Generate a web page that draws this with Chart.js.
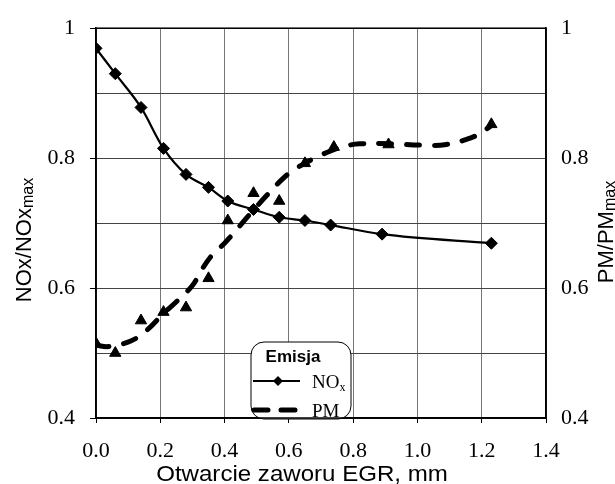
<!DOCTYPE html>
<html><head><meta charset="utf-8">
<script src="https://cdn.jsdelivr.net/npm/chart.js@4/dist/chart.umd.min.js"></script>
<style>html,body{margin:0;padding:0;background:#fff;}canvas{display:block;}</style>
</head><body>
<canvas id="c" width="615" height="484"></canvas>
<script>
// ---- data ----
const egrOpening = [0, 0.06, 0.14, 0.21, 0.28, 0.35, 0.41, 0.49, 0.57, 0.65, 0.73, 0.89, 1.23];
const noxRatio   = [0.969, 0.930, 0.878, 0.815, 0.775, 0.755, 0.734, 0.721, 0.709, 0.704, 0.697, 0.683, 0.669];
const pmOpening  = [0, 0.06, 0.14, 0.21, 0.28, 0.35, 0.41, 0.49, 0.57, 0.65, 0.74, 0.91, 1.23];
const pmRatio    = [0.515, 0.500, 0.550, 0.563, 0.570, 0.615, 0.704, 0.746, 0.734, 0.792, 0.817, 0.821, 0.852];
const pmTrendX   = [0, 0.04, 0.11, 0.16, 0.21, 0.25, 0.30, 0.33, 0.36, 0.40, 0.42, 0.46, 0.49, 0.53, 0.57, 0.61, 0.68, 0.74, 0.77, 0.82, 0.92, 1.01, 1.09, 1.17, 1.20, 1.23];
const pmTrendY   = [0.512, 0.510, 0.519, 0.536, 0.561, 0.579, 0.604, 0.629, 0.650, 0.669, 0.680, 0.703, 0.720, 0.742, 0.763, 0.780, 0.800, 0.813, 0.818, 0.822, 0.822, 0.820, 0.821, 0.832, 0.840, 0.850];
const xTickStep = 0.2;
const yTickStep = 0.1;
const xTitle = 'Otwarcie zaworu EGR, mm';
const yLeftTitle = ['NOx/NOx', 'max'];
const yRightTitle = ['PM/PM', 'max'];
const legendTitle = 'Emisja';

const toXY = (xs, ys) => xs.map((x, i) => ({x, y: ys[i]}));
const SERIF = '"Liberation Serif", "Times New Roman", serif';
const SANS = '"Liberation Sans", Arial, sans-serif';

function yLabel(v) {
  const k = Math.round(v * 10);
  if (k % 2) return '';
  return k === 10 ? '1' : (k / 10).toFixed(1);
}
const majorTick = c => (Math.round(c.tick.value * 10) % 2 === 0) ? '#000' : 'rgba(0,0,0,0)';

const decorations = {
  id: 'decorations',
  afterDatasetsDraw(chart) {
    const {ctx, chartArea: a} = chart;
    ctx.save();
    // legend box
    const bx = 251, by = 342, bw = 100, bh = 77;
    ctx.beginPath();
    ctx.roundRect(bx, by, bw, bh, 13);
    ctx.fillStyle = '#fff'; ctx.fill();
    ctx.lineWidth = 1; ctx.strokeStyle = '#000'; ctx.stroke();
    ctx.fillStyle = '#000';
    ctx.font = 'bold 17px ' + SANS;
    ctx.textAlign = 'center'; ctx.textBaseline = 'alphabetic';
    ctx.fillText(legendTitle, 293, 362);
    // NOx sample
    ctx.beginPath(); ctx.moveTo(253, 381); ctx.lineTo(300, 381);
    ctx.lineWidth = 2.2; ctx.stroke();
    ctx.beginPath(); ctx.moveTo(278, 376); ctx.lineTo(283, 381); ctx.lineTo(278, 386); ctx.lineTo(273, 381); ctx.closePath(); ctx.fill();
    ctx.textAlign = 'left';
    ctx.font = '19px ' + SERIF;
    ctx.fillText('NO', 312, 388);
    const w = ctx.measureText('NO').width;
    ctx.font = '12px ' + SERIF;
    ctx.fillText('x', 312 + w, 391);
    // PM sample
    ctx.beginPath(); ctx.moveTo(254, 410); ctx.lineTo(300, 410);
    ctx.lineWidth = 5; ctx.lineCap = 'round'; ctx.setLineDash([14, 13]); ctx.stroke();
    ctx.setLineDash([]); ctx.lineCap = 'butt';
    ctx.font = '19px ' + SERIF;
    ctx.fillText('PM', 312, 417);
    // frame
    ctx.lineWidth = 1.5; ctx.strokeStyle = '#000';
    ctx.strokeRect(a.left, a.top, a.right - a.left, a.bottom - a.top);
    ctx.restore();
  },
  afterDraw(chart) {
    const {ctx} = chart;
    ctx.save();
    ctx.fillStyle = '#000';
    // x title
    ctx.font = '21.5px ' + SANS;
    ctx.textAlign = 'center'; ctx.textBaseline = 'alphabetic';
    ctx.translate(302, 481); ctx.scale(1.12, 1);
    ctx.fillText(xTitle, 0, 0);
    ctx.restore();
    const rotTitle = (parts, cx, cy) => {
      ctx.save();
      ctx.translate(cx, cy); ctx.rotate(-Math.PI / 2);
      ctx.fillStyle = '#000'; ctx.textBaseline = 'alphabetic'; ctx.textAlign = 'left';
      ctx.font = '22px ' + SANS;
      const w1 = ctx.measureText(parts[0]).width;
      ctx.font = '16px ' + SANS;
      const w2 = ctx.measureText(parts[1]).width;
      const start = -(w1 + w2) / 2;
      ctx.font = '22px ' + SANS;
      ctx.fillText(parts[0], start, 0);
      ctx.font = '16px ' + SANS;
      ctx.fillText(parts[1], start + w1, 2);
      ctx.restore();
    };
    rotTitle(yLeftTitle, 31, 240);
    rotTitle(yRightTitle, 613, 232);
  }
};

new Chart(document.getElementById('c'), {
  data: {
    datasets: [
      { type: 'line', label: 'NOx', data: toXY(egrOpening, noxRatio), yAxisID: 'y',
        borderColor: '#000', backgroundColor: '#000', borderWidth: 2.2, cubicInterpolationMode: 'monotone',
        pointStyle: 'rectRot', pointRadius: 6, pointBorderWidth: 1, pointBackgroundColor: '#000' },
      { type: 'line', label: 'PM trend', data: toXY(pmTrendX, pmTrendY), yAxisID: 'y2',
        borderColor: '#000', borderWidth: 5, borderDash: [13, 15], borderCapStyle: 'round',
        tension: 0.4, pointRadius: 0 },
      { type: 'scatter', label: 'PM', data: toXY(pmOpening, pmRatio), yAxisID: 'y2',
        showLine: false, pointStyle: 'triangle', pointRadius: 6.5, pointBorderWidth: 1,
        borderColor: '#000', backgroundColor: '#000' }
    ]
  },
  options: {
    responsive: false, animation: false, devicePixelRatio: 1,
    layout: { padding: { top: 23, left: 0, right: 0, bottom: 0 } },
    plugins: { legend: { display: false }, tooltip: { enabled: false } },
    scales: {
      x: { type: 'linear', position: 'bottom', min: 0, max: 1.4,
        afterFit: s => { s.height = 66; },
        ticks: { stepSize: xTickStep, autoSkip: false, maxRotation: 0, padding: 15, color: '#000',
          font: { family: SERIF, size: 22 }, callback: v => v.toFixed(1) },
        grid: { color: '#777', lineWidth: 1, tickLength: 5, tickColor: '#000' },
        border: { color: '#000', width: 1.5 } },
      y: { type: 'linear', position: 'left', min: 0.4, max: 1.0,
        afterFit: s => { s.width = 96; },
        ticks: { stepSize: yTickStep, autoSkip: false, padding: 15, color: '#000',
          font: { family: SERIF, size: 22 }, callback: yLabel },
        grid: { color: '#444', lineWidth: 1, tickLength: 6, tickColor: majorTick },
        border: { color: '#000', width: 1.5 } },
      y2: { type: 'linear', position: 'right', min: 0.4, max: 1.0,
        afterFit: s => { s.width = 69; },
        ticks: { stepSize: yTickStep, autoSkip: false, padding: 15, color: '#000',
          font: { family: SERIF, size: 22 }, callback: yLabel },
        grid: { drawOnChartArea: false, drawTicks: false },
        border: { color: '#000', width: 1.5 } }
    }
  },
  plugins: [decorations]
});
</script>
</body></html>
